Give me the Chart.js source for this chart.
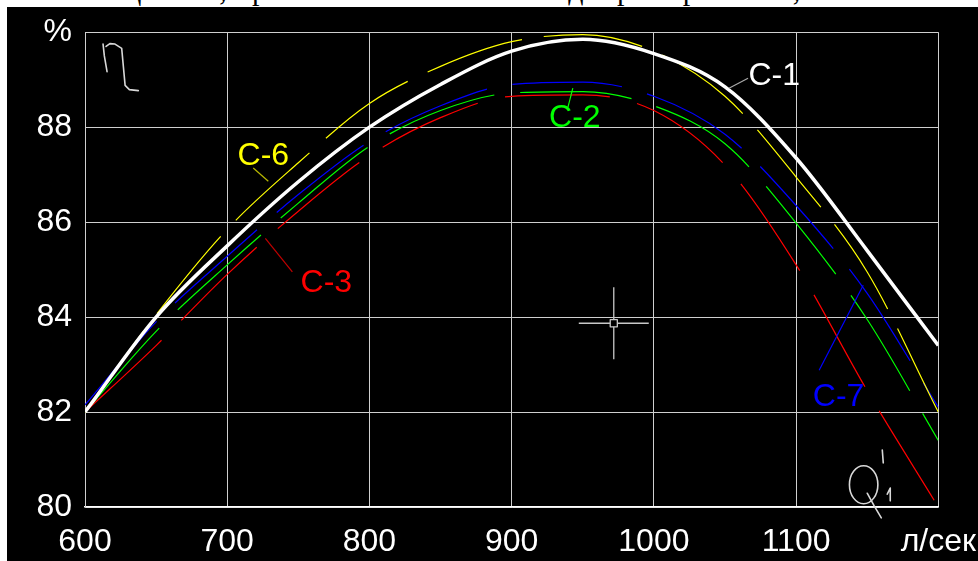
<!DOCTYPE html>
<html lang="ru">
<head>
<meta charset="utf-8">
<title>КПД насоса С-1 … С-7</title>
<script src="https://cdn.jsdelivr.net/npm/chart.js@4/dist/chart.umd.min.js"></script>
<style>
  html, body { margin: 0; padding: 0; background: #fff; }
  body { width: 978px; height: 561px; position: relative; overflow: hidden; }
  #caption {
    position: absolute; left: 0; top: -25px;
    font: 30px/30px "Liberation Serif", "Times New Roman", serif; color: #000;
    white-space: nowrap; letter-spacing: 0.6px;
  }
  #panel {
    position: absolute; left: 7px; top: 7px; width: 985px; height: 554px;
    background: #000; overflow: hidden;
  }
  #plot { position: absolute; left: 0; top: -7px; width: 985px; height: 561px; }
</style>
</head>
<body>
<div id="caption">ность мощности, привела к снижению к.п.д. примерно на 0,5%</div>
<div id="panel"><div id="plot"><canvas id="chart"></canvas></div></div>
<script>
// Flow rate, л/сек
const flowRate = [600, 650, 700, 750, 800, 850, 900, 950, 1000, 1050, 1100, 1150, 1200];

// Efficiency curves, %
const effC1 = [82.0, 84.0, 85.5, 86.85, 88.0, 88.9, 89.6, 89.85, 89.55, 88.85, 87.35, 85.4, 83.4];
const effC6 = [82.0, 84.05, 85.85, 87.25, 88.5, 89.28, 89.8, 89.95, 89.6, 88.65, 86.95, 84.95, 82.0];
const effC7 = [82.15, 83.9, 85.28, 86.58, 87.7, 88.45, 88.9, 88.95, 88.65, 87.85, 86.35, 84.5, 82.1];
const effC2 = [82.0, 83.7, 85.1, 86.4, 87.6, 88.35, 88.72, 88.75, 88.45, 87.65, 85.98, 83.95, 81.4];
const effC3 = [82.0, 83.4, 84.9, 86.23, 87.4, 88.2, 88.65, 88.68, 88.35, 87.2, 85.1, 82.45, 80.0];

const seriesNames = ['С-1', 'С-6', 'С-7', 'С-2', 'С-3'];

// Tick labels: the last tick of each axis carries the unit
const xTickLabels = ['600', '700', '800', '900', '1000', '1100', 'л/сек'];
const yTickLabels = ['80', '82', '84', '86', '88', '%'];

const FONT = '"Liberation Sans", Arial, Helvetica, sans-serif';

const pts = vals => flowRate.map((x, i) => ({ x, y: vals[i] }));

function curve(label, vals, color, width, dash) {
  return {
    label, data: pts(vals), borderColor: color, borderWidth: width,
    borderDash: dash, pointRadius: 0, fill: false,
    cubicInterpolationMode: 'monotone', borderCapStyle: 'butt'
  };
}

// Curve captions with their leader lines (value space)
const captions = [
  { text: 'С-1', color: '#ffffff', lead: '#a8a8a8', at: [1066.5, 89.07], align: 'left',
    from: [1052.8, 88.82], to: [1066.2, 89.03] },
  { text: 'С-2', color: '#00ff00', lead: '#00ff00', at: [944.4, 88.18], align: 'center',
    from: [943.0, 88.82], to: [939.6, 88.42] },
  { text: 'С-6', color: '#ffff00', lead: '#b8b800', at: [725.4, 87.39], align: 'center',
    from: [718.3, 87.14], to: [728.9, 86.86] },
  { text: 'С-3', color: '#ff0000', lead: '#c00000', at: [769.7, 84.71], align: 'center',
    from: [726.8, 85.66], to: [745.8, 84.95] },
  { text: 'С-7', color: '#0000ff', lead: '#0000ff', at: [1129.9, 82.32], align: 'center',
    from: [1147.2, 84.67], to: [1116.2, 82.88] }
];

// Hand-drawn axis symbols: η and Q'₁
const sketchStrokes = [
  [[612.7, 89.75], [613.6, 89.5], [615.5, 89.17]],
  [[614.8, 89.7], [617.5, 89.76], [621.1, 89.75], [625.8, 89.66], [627.0, 89.27],
   [628.2, 88.88], [631.2, 88.79], [637.5, 88.77]],
  [[1150.0, 80.29], [1155.0, 80.02], [1159.9, 79.77]],
  [[1160.6, 81.2], [1161.3, 80.93]],
  [[1164.1, 80.27], [1166.2, 80.4], [1166.2, 80.13]]
];
const sketchLoop = { center: [1147.5, 80.47], rx: 10.0, ry: 0.4 };
const cursorMark = { center: [971.8, 83.87], halfX: 24.6, halfY: 0.76, box: [2.5, 0.075] };

const overlay = {
  id: 'overlay',
  afterDatasetsDraw(chart) {
    const { ctx, scales: { x, y } } = chart;
    const P = p => [x.getPixelForValue(p[0]), y.getPixelForValue(p[1])];
    ctx.save();

    // captions
    ctx.font = '32px ' + FONT;
    ctx.textBaseline = 'middle';
    captions.forEach(c => {
      const a = P(c.from), b = P(c.to);
      ctx.strokeStyle = c.lead; ctx.lineWidth = 1.2;
      ctx.beginPath(); ctx.moveTo(a[0], a[1]); ctx.lineTo(b[0], b[1]); ctx.stroke();
      const t = P(c.at);
      ctx.fillStyle = c.color; ctx.textAlign = c.align;
      ctx.fillText(c.text, t[0], t[1]);
    });

    // hand-drawn symbols
    ctx.strokeStyle = '#d8d8d8'; ctx.lineWidth = 1.6;
    ctx.lineJoin = 'round'; ctx.lineCap = 'round';
    sketchStrokes.forEach(s => {
      ctx.beginPath();
      s.forEach((p, i) => { const q = P(p); i ? ctx.lineTo(q[0], q[1]) : ctx.moveTo(q[0], q[1]); });
      ctx.stroke();
    });
    const c0 = P(sketchLoop.center);
    const rx = Math.abs(x.getPixelForValue(sketchLoop.center[0] + sketchLoop.rx) - c0[0]);
    const ry = Math.abs(y.getPixelForValue(sketchLoop.center[1] + sketchLoop.ry) - c0[1]);
    ctx.beginPath(); ctx.ellipse(c0[0], c0[1], rx, ry, 0, 0, Math.PI * 2); ctx.stroke();

    // cursor cross
    const m = P(cursorMark.center);
    const hx = Math.abs(x.getPixelForValue(cursorMark.center[0] + cursorMark.halfX) - m[0]);
    const hy = Math.abs(y.getPixelForValue(cursorMark.center[1] + cursorMark.halfY) - m[1]);
    const bx = Math.abs(x.getPixelForValue(cursorMark.center[0] + cursorMark.box[0]) - m[0]);
    const by = Math.abs(y.getPixelForValue(cursorMark.center[1] + cursorMark.box[1]) - m[1]);
    ctx.strokeStyle = '#c8c8c8'; ctx.lineWidth = 1.3; ctx.lineCap = 'butt';
    ctx.beginPath();
    ctx.moveTo(m[0] - hx, m[1]); ctx.lineTo(m[0] - bx, m[1]);
    ctx.moveTo(m[0] + bx, m[1]); ctx.lineTo(m[0] + hx, m[1]);
    ctx.moveTo(m[0], m[1] - hy); ctx.lineTo(m[0], m[1] - by);
    ctx.moveTo(m[0], m[1] + by); ctx.lineTo(m[0], m[1] + hy);
    ctx.stroke();
    ctx.strokeRect(m[0] - bx, m[1] - by, bx * 2, by * 2);

    ctx.restore();
  }
};

new Chart(document.getElementById('chart'), {
  type: 'line',
  data: {
    datasets: [
      curve(seriesNames[0], effC1, '#ffffff', 3.5, []),
      curve(seriesNames[1], effC6, '#ffff00', 1.2, [100, 22]),
      curve(seriesNames[2], effC7, '#0000ff', 1.2, [110, 26]),
      curve(seriesNames[3], effC2, '#00ff00', 1.2, [112, 26]),
      curve(seriesNames[4], effC3, '#ff0000', 1.2, [105, 28])
    ]
  },
  options: {
    responsive: true,
    maintainAspectRatio: false,
    animation: false,
    layout: { padding: 0 },
    plugins: { legend: { display: false }, tooltip: { enabled: false } },
    scales: {
      x: {
        type: 'linear', min: 600, max: 1200,
        grid: { color: '#cfcfcf', lineWidth: 1, drawTicks: false },
        border: { color: '#ffffff', width: 1.5 },
        ticks: {
          stepSize: 100, color: '#ffffff', padding: 16, maxRotation: 0,
          font: { family: FONT, size: 32 },
          callback: (v, i) => xTickLabels[i]
        },
        afterFit: s => { s.height = 54; }
      },
      y: {
        min: 80, max: 90,
        grid: { color: '#cfcfcf', lineWidth: 1, drawTicks: false },
        border: { color: '#cfcfcf', width: 1 },
        ticks: {
          stepSize: 2, color: '#ffffff', padding: 13,
          font: { family: FONT, size: 32 },
          callback: (v, i) => yTickLabels[i]
        },
        afterFit: s => { s.width = 78; }
      }
    }
  },
  plugins: [overlay]
});
</script>
</body>
</html>
